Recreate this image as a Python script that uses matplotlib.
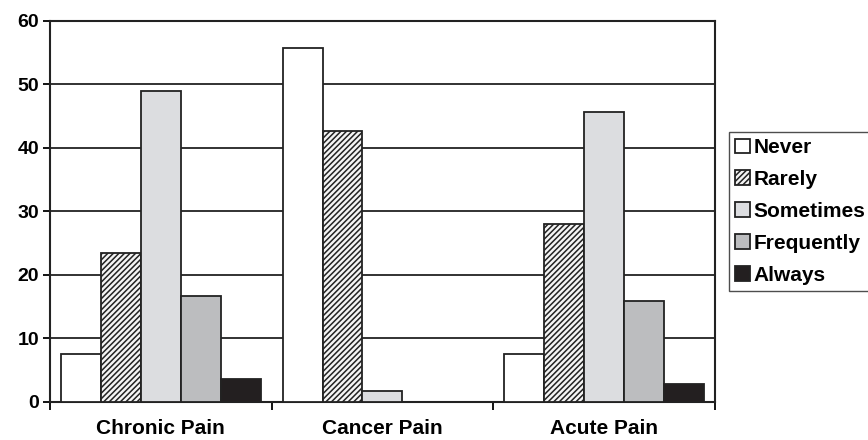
import matplotlib.pyplot as plt
import numpy as np

plt.rcParams['font.family'] = ['Liberation Sans', 'DejaVu Sans']
plt.rcParams['font.weight'] = 'bold'
plt.rcParams['hatch.linewidth'] = 1.1
plt.rcParams['hatch.color'] = '#2a2a2a'

categories = ["Chronic Pain", "Cancer Pain", "Acute Pain"]
series = ["Never", "Rarely", "Sometimes", "Frequently", "Always"]
never = [7.5, 55.8, 7.5]
rarely = [23.5, 42.7, 28.1]
sometimes = [48.9, 1.7, 45.7]
frequently = [16.7, 0, 15.9]
always = [3.6, 0, 2.8]

values = [never, rarely, sometimes, frequently, always]
colors = ["white", "#f4f4f4", "#dcdde0", "#bcbdbf", "#231f20"]
hatches = [None, "//////", None, None, None]

fig = plt.figure(figsize=(8.68, 4.4), dpi=100)
ax = fig.add_axes([0.0576, 0.0864, 0.766, 0.866])

x = np.arange(len(categories))
w = 0.18
for i, (vals, name) in enumerate(zip(values, series)):
    ax.bar(x + (i - 2) * w, vals, w, color=colors[i], edgecolor="#222222",
           linewidth=1.3, hatch=hatches[i], label=name, zorder=3)

ax.set_xlim(-0.5, 2.5)
ax.set_ylim(0, 60)
ax.set_yticks(range(0, 61, 10))
ax.yaxis.grid(True, color="#222222", linewidth=1.3, zorder=0)
ax.set_xticks([-0.5, 0.5, 1.5, 2.5])
ax.set_xticklabels([])
ax.set_xticks(x, minor=True)
ax.set_xticklabels(categories, minor=True, fontsize=15, fontweight="bold")
ax.tick_params(axis="x", which="minor", length=0, pad=12)
ax.tick_params(axis="x", which="major", length=6, width=1.3, direction="out")
ax.tick_params(axis="y", length=5, width=1.3, labelsize=14, pad=3)
for s in ax.spines.values():
    s.set_linewidth(1.5)
    s.set_color("#222222")

leg = ax.legend(loc="center left", bbox_to_anchor=(1.021, 0.50), fontsize=15,
                frameon=True, fancybox=False, edgecolor="#222222",
                handlelength=0.7, handleheight=0.7, handletextpad=0.2,
                labelspacing=0.62, borderpad=0.3, borderaxespad=0)
leg.get_frame().set_linewidth(1.0)

fig.savefig("out.png", dpi=100)
